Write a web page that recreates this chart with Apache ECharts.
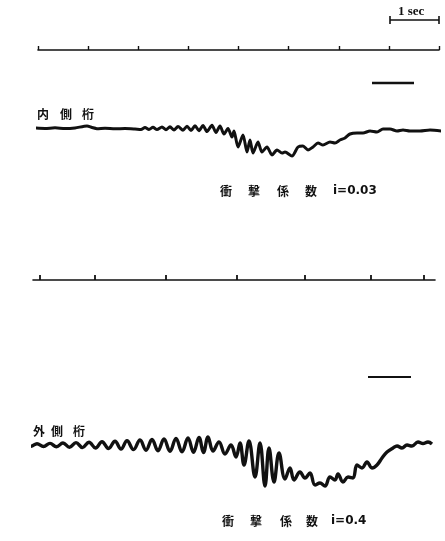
<!DOCTYPE html>
<html>
<head>
<meta charset="utf-8">
<script src="https://cdn.jsdelivr.net/npm/echarts@6/dist/echarts.min.js"></script>
<style>
  html, body { margin: 0; padding: 0; background: #fff; }
  #chart { width: 445px; height: 541px; }
</style>
</head>
<body>
<div id="chart"></div>
<script>
// record length in mm along the paper, 1 sec = 50.125 mm
const MM_PER_SEC = 50.125;
const TOP_RECORD_MM = 401;
const LOW_RECORD_MM = 402;

// timing marks of the lower record (mm)
const lowerTimeMarks = [7, 62, 133, 204, 272, 338, 391];

// "1 sec" bracket (mm, level)
const secBracket = [[352, 26], [352, 34], [352, 30], [401, 30], [401, 26], [401, 34]];

// direction arrows (mm, level)
const innerArrow = [[334, 45], [376, 45]];
const outerArrow = [[335, 68], [378, 68]];

// 内側桁 deflection trace (mm, deflection)
const innerTrace = [
  [-4, 0], [7, -0.5], [17, 0.2], [27, -0.6], [37, 0], [49, 2], [54, 0.5], [59, -0.7],
  [67, -0.3], [77, -0.8], [87, -0.5], [97, -1], [103, -1.5], [107, 0.5], [111, -1.5],
  [115, 0.7], [119, -1.6], [124, 1], [128, -1.8], [132, 1.2], [136, -2], [140, 1.5],
  [145, -2.2], [149, 1.8], [153, -2.5], [157, 2.2], [161, -2.8], [165, 2.5], [169, -3.5],
  [174, 2.7], [178, -4.5], [182, 2], [186, -6], [190, -0.5], [194, -9], [196, -3],
  [200, -19], [205, -7], [209, -24], [212, -12], [215, -25], [220, -14], [224, -24],
  [229, -19], [234, -27], [239, -22], [244, -25], [247, -24], [254, -28], [260, -19],
  [265, -18], [270, -22], [275, -19], [280, -15], [285, -17], [292, -14], [297, -15],
  [302, -12], [307, -10], [312, -6], [319, -5], [325, -5], [332, -3], [339, -4],
  [345, -1], [352, -1], [359, -3], [365, -2], [372, -3], [382, -3], [392, -2], [404, -3]
];

// 外側桁 deflection trace (mm, deflection)
const outerTrace = [
  [-23, 0], [-14, -1], [-8, 1], [-2, -1.2], [4, 1.3], [10.5, -1.5], [17, 1.6],
  [23.5, -1.8], [30, 2], [36.5, -2.2], [43, 2.4], [49.5, -2.6], [56, 2.8], [62.5, -3],
  [69, 3.3], [75.5, -3.5], [82, 3.8], [88, -4], [94, 4.3], [100.5, -4.6], [107, 5],
  [113, -5.2], [119, 5.5], [125, -5.8], [131, 6], [137, -6.2], [143, 6.5], [149, -6.8],
  [155, 7], [160.5, -7.2], [166, 7.5], [170.5, -7.5], [175, 8], [180, -6], [186, 3],
  [192, -9], [198, 0], [203, -12], [207, 2], [211, -20], [216, 4], [222, -32], [227, 2],
  [232, -41], [236, -3], [241, -37], [246, -8], [252, -34], [257, -23], [261, -35],
  [267, -27], [272, -33], [277, -28], [282, -40], [287, -38], [292, -41], [297, -32],
  [302, -35], [305, -29], [310, -37], [315, -32], [320, -33], [324, -20], [329, -23],
  [334, -17], [339, -23], [344, -20], [349, -13], [354, -7], [360, -3], [364, -1],
  [369, -3], [374, 0], [379, -1], [385, 3], [390, 1.5], [395, 3], [399, 1]
];

const ink = '#111';
const chart = echarts.init(document.getElementById('chart'), null, { renderer: 'canvas' });

const hiddenX = (max) => ({ type: 'value', min: 0, max: max, show: false });
const hiddenY = (min, max) => ({ type: 'value', min: min, max: max, show: false });

const cjk = 'bold 12px "Noto Sans CJK JP"';
const latin = 'bold 12px "DejaVu Sans"';
const txt = (text, x, y, font) => ({
  type: 'text', left: x, top: y - 8,
  style: { text: text, font: font, fill: ink }
});

const option = {
  backgroundColor: '#fff',
  animation: false,
  grid: [
    { left: 38, width: 401, top: 10, height: 40 },
    { left: 38, width: 401, top: 78, height: 85 },
    { left: 33, width: 402, top: 260, height: 20 },
    { left: 33, width: 402, top: 370, height: 125 }
  ],
  xAxis: [
    {
      gridIndex: 0, type: 'value', min: 0, max: TOP_RECORD_MM, interval: MM_PER_SEC,
      axisLine: { show: true, lineStyle: { color: ink, width: 1.6 } },
      axisTick: { show: true, inside: true, length: 4, lineStyle: { color: ink, width: 1.4 } },
      axisLabel: { show: false }, splitLine: { show: false }
    },
    Object.assign(hiddenX(TOP_RECORD_MM), { gridIndex: 1 }),
    {
      gridIndex: 2, type: 'value', min: 0, max: LOW_RECORD_MM,
      axisLine: { show: true, lineStyle: { color: ink, width: 1.6 } },
      axisTick: { show: true, inside: true, length: 5, customValues: lowerTimeMarks,
        lineStyle: { color: ink, width: 1.8 } },
      axisLabel: { show: false }, splitLine: { show: false }
    },
    Object.assign(hiddenX(LOW_RECORD_MM), { gridIndex: 3 })
  ],
  yAxis: [
    Object.assign(hiddenY(0, 40), { gridIndex: 0 }),
    Object.assign(hiddenY(-35, 50), { gridIndex: 1 }),
    Object.assign(hiddenY(0, 20), { gridIndex: 2 }),
    Object.assign(hiddenY(-50, 75), { gridIndex: 3 })
  ],
  series: [
    {
      type: 'line', xAxisIndex: 0, yAxisIndex: 0, data: secBracket, clip: false,
      symbol: 'none', lineStyle: { color: ink, width: 1.6 }
    },
    {
      type: 'line', xAxisIndex: 1, yAxisIndex: 1, data: innerTrace, clip: false,
      symbol: 'none', smooth: 0.25, lineStyle: { color: ink, width: 3, join: 'round' }
    },
    {
      type: 'line', xAxisIndex: 1, yAxisIndex: 1, data: innerArrow, clip: false,
      symbol: 'none', lineStyle: { color: ink, width: 2.6 }
    },
    {
      type: 'line', xAxisIndex: 3, yAxisIndex: 3, data: outerTrace, clip: false,
      symbol: 'none', smooth: 0.4, lineStyle: { color: ink, width: 3.4, join: 'round' }
    },
    {
      type: 'line', xAxisIndex: 3, yAxisIndex: 3, data: outerArrow, clip: false,
      symbol: 'none', lineStyle: { color: ink, width: 2.2 }
    }
  ],
  graphic: [
    { type: 'text', left: 398, top: 5, style: { text: '1 sec', font: 'bold 13px "Liberation Serif"', fill: ink } },
    txt('内', 37, 116, cjk), txt('側', 60, 116, cjk), txt('桁', 82, 116, cjk),
    txt('衝', 220, 193, cjk), txt('撃', 248, 193, cjk), txt('係', 277, 193, cjk),
    txt('数', 305, 193, cjk), txt('i=0.03', 333, 193, latin),
    txt('外', 33, 433, cjk), txt('側', 51, 433, cjk), txt('桁', 73, 433, cjk),
    txt('衝', 222, 523, cjk), txt('撃', 250, 523, cjk), txt('係', 280, 523, cjk),
    txt('数', 306, 523, cjk), txt('i=0.4', 331, 523, latin)
  ]
};

chart.setOption(option);
</script>
</body>
</html>
